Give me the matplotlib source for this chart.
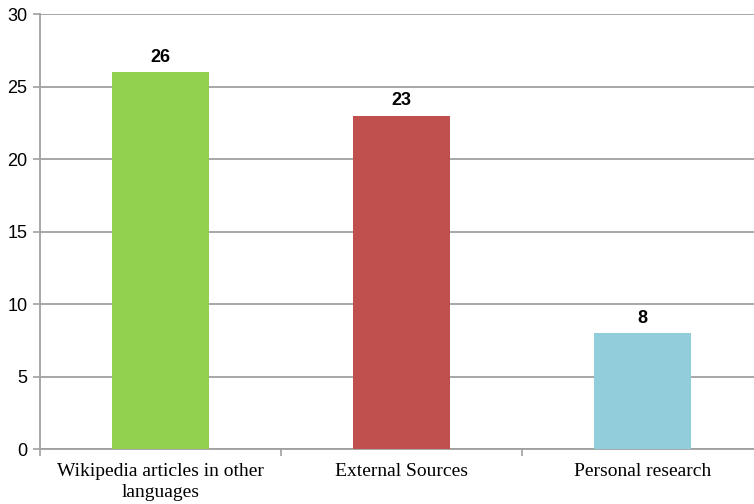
import matplotlib.pyplot as plt
import numpy as np

categories = ['Wikipedia articles in other\nlanguages', 'External Sources', 'Personal research']
counts = [26, 23, 8]
colors = ['#92D050', '#C0504D', '#92CDDC']

if __name__ == "__main__":
    fig = plt.figure(figsize=(7.54, 5.04), dpi=100)
    # plot area runs slightly past the right edge of the image
    ax = fig.add_axes([0.053, 0.109, 0.959, 0.863])

    x = np.arange(len(categories))
    bars = ax.bar(x, counts, width=0.40, color=colors, zorder=3)

    for b, v in zip(bars, counts):
        ax.text(b.get_x() + b.get_width() / 2, v + 0.45, str(v), ha='center', va='bottom',
                fontsize=13, fontweight='bold', family='Liberation Sans', zorder=4)

    ax.set_xlim(-0.5, len(categories) - 0.5)
    ax.set_ylim(0, 30)
    ax.set_yticks(np.arange(0, 31, 5))
    ax.yaxis.grid(True, color='#A0A0A0', linewidth=1.3, zorder=0)

    # category labels in the middle, tick marks on the boundaries
    ax.set_xticks(np.arange(-0.5, len(categories), 1.0))
    ax.set_xticklabels([])
    ax.set_xticks(x, minor=True)
    ax.set_xticklabels(categories, minor=True, family='Liberation Serif', fontsize=14,
                       linespacing=1.3)
    ax.tick_params(axis='x', which='minor', length=0, pad=10)
    ax.tick_params(axis='x', which='major', length=5, color='#A0A0A0', width=1.2)
    ax.tick_params(axis='y', length=5, color='#A0A0A0', width=1.2, pad=4)
    for lbl in ax.get_yticklabels():
        lbl.set_family('Liberation Sans')
        lbl.set_fontsize(13)

    for s in ['top', 'right']:
        ax.spines[s].set_visible(False)
    for s in ['left', 'bottom']:
        ax.spines[s].set_color('#A0A0A0')
        ax.spines[s].set_linewidth(1.3)

    fig.savefig('out.png', dpi=100)
